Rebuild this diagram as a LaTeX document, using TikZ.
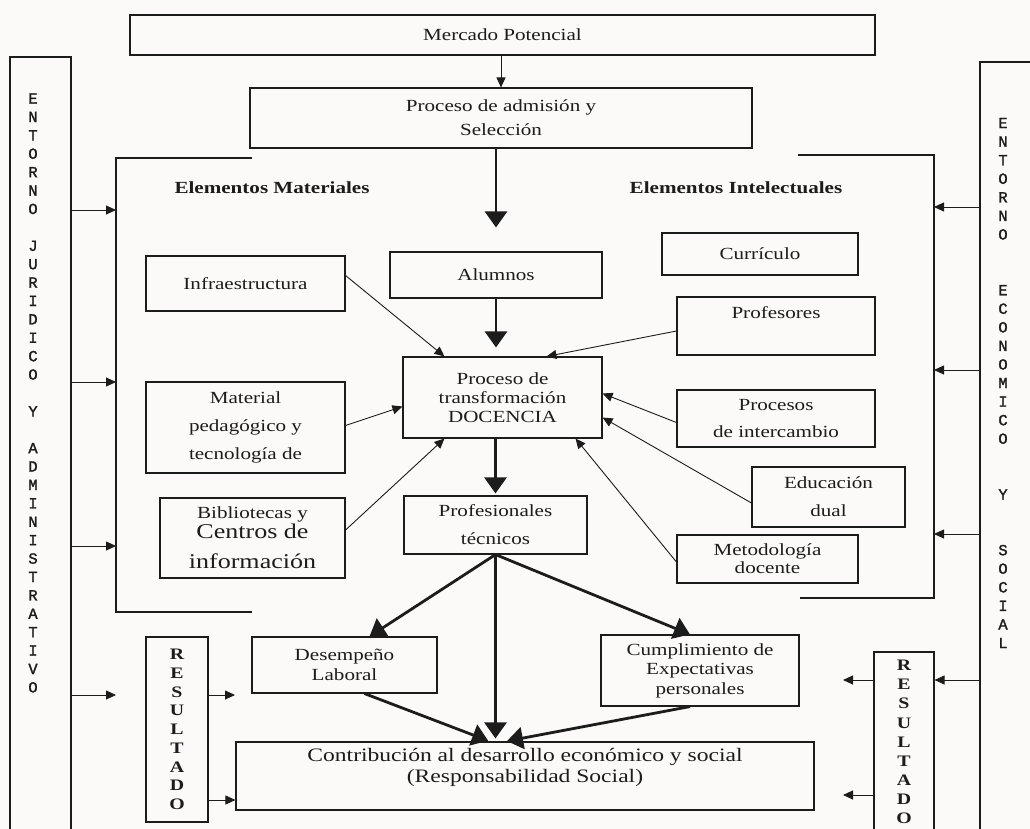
\documentclass[tikz,border=0pt]{standalone}
\usepackage{fontspec}
\setmainfont{Liberation Serif}[FakeStretch=1.24]
\newfontfamily\monof{Liberation Mono}[FakeBold=1.5]
\usetikzlibrary{arrows.meta,calc}
\newcommand\fsz[2]{\fontsize{#1}{#2}\selectfont}
\definecolor{ink}{RGB}{28,28,28}
\definecolor{paper}{RGB}{252,250,249}
\tikzset{
  box/.style={draw=ink, line width=1.1pt, inner sep=0pt, align=center, text=ink},
  thinar/.style={draw=ink, line width=0.9pt, -{Triangle[length=10pt,width=9pt]}},
  thickar/.style={draw=ink, line width=2.8pt, -{Triangle[length=16pt,width=22pt]}},
  bracket/.style={draw=ink, line width=1.4pt},
  heading/.style={text=ink, font=\bfseries\fsz{17}{20}, inner sep=0pt},
  vtext/.style={text=ink, align=center, inner sep=0pt}
}
\begin{document}
\begin{tikzpicture}[x=1pt,y=-1pt]
\useasboundingbox (0,0) rectangle (1030,829);
\fill[paper] (0,0) rectangle (1030,829);
\clip (0,0) rectangle (1030,829);

% environment boxes
\node[box, minimum width=61pt, minimum height=823pt] (entL) at (40.5,468.5) {};
\node[vtext, font=\monof\fsz{15.5}{18.4}] (entLt) at (33,393)
 {E\\N\\T\\O\\R\\N\\O\\~\\J\\U\\R\\I\\D\\I\\C\\O\\~\\Y\\~\\A\\D\\M\\I\\N\\I\\S\\T\\R\\A\\T\\I\\V\\O};
\node[box, minimum width=80pt, minimum height=818pt] (entR) at (1020,471) {};
\node[vtext, font=\monof\fsz{15.5}{18.57}] (entRt) at (1003,383)
 {E\\N\\T\\O\\R\\N\\O\\~\\~\\E\\C\\O\\N\\O\\M\\I\\C\\O\\~\\~\\Y\\~\\~\\S\\O\\C\\I\\A\\L};

% top
\node[box, minimum width=745pt, minimum height=40pt, font=\fsz{17}{20}] (merc) at (502.5,35) {Mercado Potencial};
\node[box, minimum width=502pt, minimum height=60pt, font=\fsz{17}{24}] (adm) at (501,118) {Proceso de admisión y\\Selección};

% brackets
\draw[bracket] (252,158) -- (116,158) -- (116,612) -- (252,612);
\draw[bracket] (798,155) -- (934,155) -- (934,598) -- (800,598);
\node[heading] (hmat) at (272,188) {Elementos Materiales};
\node[heading] (hint) at (736,188) {Elementos Intelectuales};

% central column
\node[box, minimum width=212pt, minimum height=46pt, font=\fsz{17}{20}] (alum) at (496,275) {Alumnos};
\node[box, minimum width=199pt, minimum height=81pt, font=\fsz{17}{19}] (doc) at (502.5,397.5) {Proceso de\\transformación\\DOCENCIA};
\node[box, minimum width=183pt, minimum height=58pt, font=\fsz{17}{28}] (ptec) at (495.5,525) {Profesionales\\técnicos};

% material elements
\node[box, minimum width=199pt, minimum height=55pt, font=\fsz{17}{20}] (infra) at (245.5,283.5) {Infraestructura};
\node[box, minimum width=199pt, minimum height=91pt, font=\fsz{17}{28}] (mat) at (245.5,427.5) {Material\\pedagógico y\\tecnología de};
\node[box, minimum width=185pt, minimum height=80pt, font=\fsz{21}{30}] (bib) at (252.5,538) {{\fsz{17}{20}Bibliotecas y}\\[-10pt]Centros de\\información};

% intellectual elements
\node[box, minimum width=196pt, minimum height=42pt, font=\fsz{17}{20}] (curr) at (760,254) {Currículo};
\node[box, minimum width=198pt, minimum height=58pt, font=\fsz{17}{26}] (prof) at (776,326) {Profesores\\~};
\node[box, minimum width=198pt, minimum height=57pt, font=\fsz{17}{27}] (proc) at (776,418.5) {Procesos\\de intercambio};
\node[box, minimum width=153pt, minimum height=60pt, font=\fsz{17}{28}] (edu) at (828.5,497) {Educación\\dual};
\node[box, minimum width=181pt, minimum height=48pt, font=\fsz{17}{18}] (met) at (767.5,559) {Metodología\\docente};

% results
\node[box, minimum width=185pt, minimum height=56pt, font=\fsz{17}{20}] (des) at (344.5,665) {Desempeño\\Laboral};
\node[box, minimum width=198pt, minimum height=71pt, font=\fsz{17}{19.5}] (cum) at (700,670.5) {Cumplimiento de\\Expectativas\\personales};
\node[box, minimum width=578pt, minimum height=68pt, font=\fsz{19}{21}] (con) at (525,776) {Contribución al desarrollo económico y social\\(Responsabilidad Social)\\~};
\node[box, minimum width=62pt, minimum height=185pt, font=\bfseries\fsz{16}{18.75}] (resL) at (177,729.5) {R\\E\\S\\U\\L\\T\\A\\D\\O};
\node[box, minimum width=60pt, minimum height=193pt] (resR) at (904,748.5) {};
\node[vtext, font=\bfseries\fsz{16}{19.1}] (resRt) at (904,742) {R\\E\\S\\U\\L\\T\\A\\D\\O};

% coordinates
\coordinate (bl1) at (116,210);
\coordinate (bl2) at (116,382);
\coordinate (bl3) at (116,546);
\coordinate (bl4) at (116,695);
\coordinate (rl1) at (235,695);
\coordinate (conl) at ($(con.west)+(0,24)$);
\coordinate (br1) at (934,207);
\coordinate (br2) at (934,370);
\coordinate (br3) at (934,534);
\coordinate (rr0) at (934,680);
\coordinate (rr1) at (843,680);
\coordinate (rr2) at (843,795);

% environment arrows
\draw[thinar] (entL.east |- bl1) -- (bl1);
\draw[thinar] (entL.east |- bl2) -- (bl2);
\draw[thinar] (entL.east |- bl3) -- (bl3);
\draw[thinar] (entL.east |- bl4) -- (bl4);
\draw[thinar] (resL.east |- rl1) -- (rl1);
\draw[thinar] (resL.east |- conl) -- (conl);
\draw[thinar] (entR.west |- br1) -- (br1);
\draw[thinar] (entR.west |- br2) -- (br2);
\draw[thinar] (entR.west |- br3) -- (br3);
\draw[thinar] (entR.west |- rr0) -- (resR.east |- rr0);
\draw[thinar] (resR.west |- rr1) -- (rr1);
\draw[thinar] (resR.west |- rr2) -- (rr2);

% main flow
\draw[thinar] (merc.south -| adm.north) -- (adm.north);
\draw[thickar, shorten >=24pt] (adm.south -| alum.north) -- (alum.north);
\draw[thickar, shorten >=9pt] (alum.south) -- (alum.south |- doc.north);
\draw[thickar, shorten >=2pt] (doc.south -| ptec.north) -- (ptec.north);
\draw[thickar] (ptec.south) -- ($(des.north)+(25,0)$);
\draw[thickar] (ptec.south) -- ($(cum.north)+(-10,0)$);
\draw[thickar, shorten >=3pt] (ptec.south) -- (ptec.south |- con.north);
\draw[thickar, shorten >=2pt] ($(des.south)+(20,0)$) -- ($(con.north)+(-35,0)$);
\draw[thickar, shorten >=2pt] ($(cum.south)+(-10,0)$) -- ($(con.north)+(-20,0)$);

% inputs to teaching
\draw[thinar] ($(infra.east)+(0,-8)$) -- ($(doc.north west)+(42,0)$);
\draw[thinar] ($(mat.east)+(0,-2)$) -- ($(doc.west)+(0,9)$);
\draw[thinar] ($(bib.east)+(0,-8)$) -- ($(doc.south west)+(42,0)$);
\draw[thinar] ($(prof.west)+(0,5)$) -- ($(doc.north)+(44,0)$);
\draw[thinar] ($(proc.west)+(0,4)$) -- ($(doc.east)+(0,-4)$);
\draw[thinar] ($(edu.west)+(0,6)$) -- ($(doc.east)+(0,20)$);
\draw[thinar] ($(met.west)+(0,3)$) -- ($(doc.south east)+(-27,0)$);
\end{tikzpicture}
\end{document}
